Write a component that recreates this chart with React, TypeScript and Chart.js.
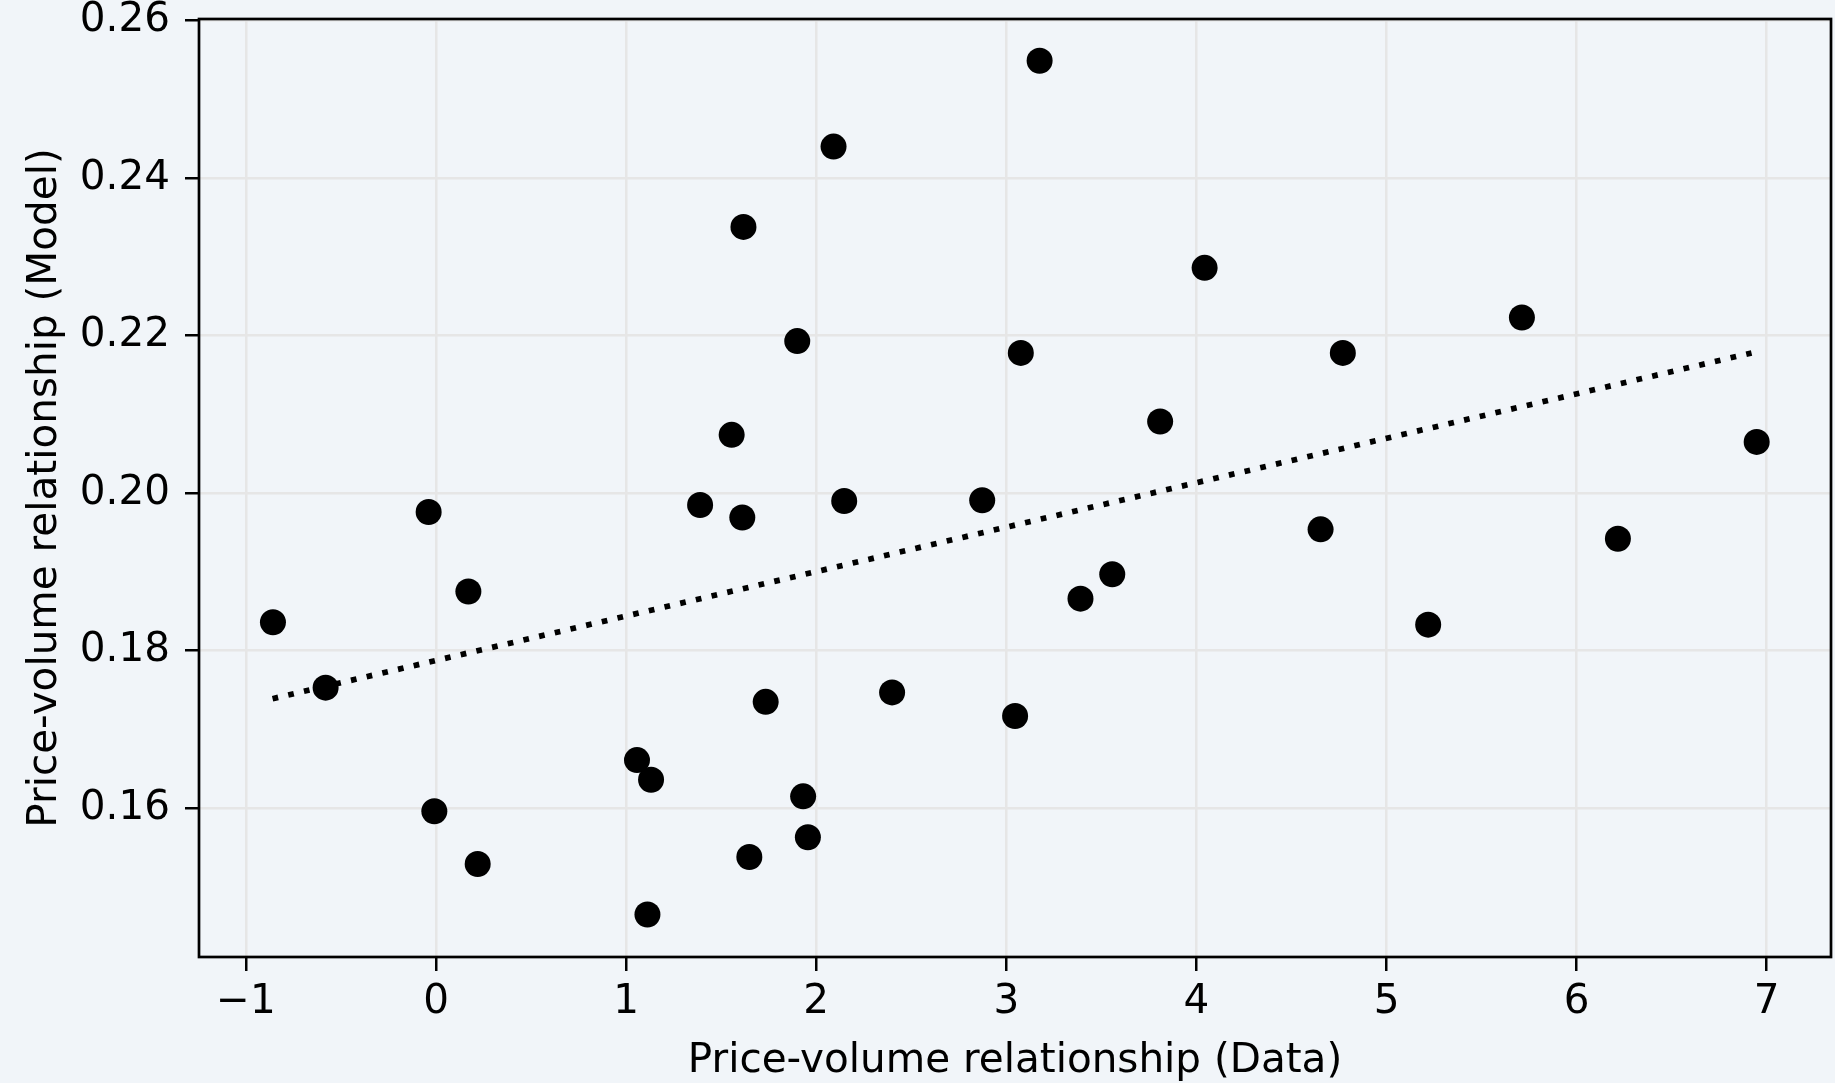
import React, { useEffect, useRef } from 'react';
import { Chart, registerables } from 'chart.js';

Chart.register(...registerables);

// ---- data ----
const dataX = [
  -0.858, -0.581, -0.039, -0.009, 0.170, 0.219, 1.057, 1.131, 1.112, 1.389,
  1.555, 1.617, 1.611, 1.648, 1.734, 1.900, 1.931, 1.956, 2.091, 2.147,
  2.399, 2.873, 3.046, 3.076, 3.175, 3.390, 3.557, 3.809, 4.043, 4.653,
  4.770, 5.219, 5.712, 6.217, 6.947,
];
const dataY = [
  0.1836, 0.1753, 0.1976, 0.1596, 0.1875, 0.1529, 0.1661, 0.1636, 0.1465, 0.1985,
  0.2074, 0.2338, 0.1969, 0.1538, 0.1735, 0.2193, 0.1615, 0.1563, 0.2440, 0.1990,
  0.1747, 0.1991, 0.1717, 0.2178, 0.2549, 0.1866, 0.1897, 0.2091, 0.2286, 0.1954,
  0.2178, 0.1833, 0.2223, 0.1942, 0.2065,
];
const trendX = [-0.86, 6.92];
const trendY = [0.1739, 0.2178];
const xTicks = [-1, 0, 1, 2, 3, 4, 5, 6, 7];
const yTicks = [0.16, 0.18, 0.2, 0.22, 0.24, 0.26];
const xTitle = 'Price-volume relationship (Data)';
const yTitle = 'Price-volume relationship (Model)';

const W = 1835;
const H = 1083;
const BG = '#f1f5f9';
const FONT = 'DejaVu Sans';
const FS = 40.5;

const bgPlugin = {
  id: 'bgFill',
  beforeDraw(chart: any) {
    const ctx = chart.ctx;
    ctx.save();
    ctx.fillStyle = BG;
    ctx.fillRect(0, 0, chart.width, chart.height);
    ctx.restore();
  },
};

const framePlugin = {
  id: 'frame',
  afterDatasetsDraw(chart: any) {
    const { ctx, chartArea } = chart;
    ctx.save();
    ctx.strokeStyle = '#000';
    ctx.lineWidth = 2.7;
    ctx.strokeRect(chartArea.left, chartArea.top, chartArea.right - chartArea.left, chartArea.bottom - chartArea.top);
    ctx.restore();
  },
};

export default function App() {
  const ref = useRef<HTMLCanvasElement | null>(null);

  useEffect(() => {
    if (!ref.current) return;
    const points = dataX.map((x, i) => ({ x, y: dataY[i] }));
    const trend = trendX.map((x, i) => ({ x, y: trendY[i] }));
    const chart = new Chart(ref.current, {
      type: 'scatter',
      data: {
        datasets: [
          {
            label: 'trend',
            data: trend,
            showLine: true,
            borderColor: '#000',
            backgroundColor: '#000',
            borderWidth: 5.7,
            borderDash: [5.7, 10.4],
            pointRadius: 0,
            pointHoverRadius: 0,
          } as any,
          {
            label: 'points',
            data: points,
            backgroundColor: '#000',
            borderColor: '#000',
            borderWidth: 0,
            pointRadius: 13,
            pointHoverRadius: 13,
          },
        ],
      },
      options: {
        animation: false,
        responsive: false,
        maintainAspectRatio: false,
        devicePixelRatio: 1,
        layout: { autoPadding: false, padding: { top: 19, right: 4, left: 0, bottom: 0 } },
        plugins: {
          legend: { display: false },
          tooltip: { enabled: false },
        },
        scales: {
          x: {
            type: 'linear',
            position: 'bottom',
            min: -1.247,
            max: 7.338,
            afterBuildTicks: (s: any) => {
              s.ticks = xTicks.map((v) => ({ value: v }));
            },
            afterFit: (s: any) => {
              s.height = 126;
              s.paddingLeft = 0;
              s.paddingRight = 0;
            },
            border: { display: false },
            grid: {
              color: '#e6e6e6',
              lineWidth: 2.5,
              drawTicks: true,
              tickLength: 14,
              tickColor: '#000',
              tickWidth: 2.5,
            },
            ticks: {
              color: '#000',
              padding: 11,
              maxRotation: 0,
              autoSkip: false,
              font: { family: FONT, size: FS, lineHeight: 1.0 },
              callback: (v: any) => (v < 0 ? '\u2212' + Math.abs(v) : String(v)),
            },
            title: {
              display: true,
              text: xTitle,
              color: '#000',
              font: { family: FONT, size: FS, lineHeight: 1.0 },
              padding: { top: 0, bottom: 1 },
            },
          },
          y: {
            type: 'linear',
            position: 'left',
            min: 0.1411,
            max: 0.2602,
            afterBuildTicks: (s: any) => {
              s.ticks = yTicks.map((v) => ({ value: v }));
            },
            afterFit: (s: any) => {
              s.width = 199;
              s.paddingTop = 0;
              s.paddingBottom = 0;
            },
            border: { display: false },
            grid: {
              color: '#e6e6e6',
              lineWidth: 2.5,
              drawTicks: true,
              tickLength: 14,
              tickColor: '#000',
              tickWidth: 2.5,
            },
            ticks: {
              color: '#000',
              padding: 15,
              autoSkip: false,
              font: { family: FONT, size: FS, lineHeight: 1.0 },
              callback: (v: any) => Number(v).toFixed(2),
            },
            title: {
              display: true,
              text: yTitle,
              color: '#000',
              font: { family: FONT, size: FS, lineHeight: 1.0 },
              padding: { top: 25, bottom: 0 },
            },
          },
        },
      },
      plugins: [bgPlugin, framePlugin],
    });
    return () => chart.destroy();
  }, []);

  return (
    <div style={{ position: 'fixed', left: 0, top: 0, width: W, height: H, background: BG }}>
      <canvas ref={ref} width={W} height={H} style={{ display: 'block', width: W, height: H }} />
    </div>
  );
}
